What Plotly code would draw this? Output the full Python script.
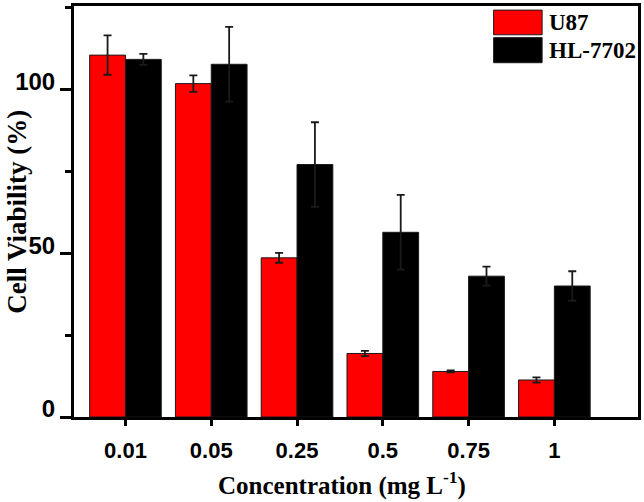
import plotly.graph_objects as go

categories = ["0.01", "0.05", "0.25", "0.5", "0.75", "1"]
u87 = [110.5, 101.8, 48.6, 19.4, 13.9, 11.3]
u87_err = [6.0, 2.5, 1.5, 0.8, 0.3, 0.8]
hl7702 = [109.2, 107.7, 77.1, 56.4, 43.0, 40.0]
hl7702_err = [1.7, 11.4, 12.9, 11.4, 2.9, 4.5]
series_names = ["U87", "HL-7702"]
series_colors = ["#ff0000", "#000000"]
y_ticks = [0, 50, 100]

fig = go.Figure()
for name, vals, errs, col in zip(series_names, [u87, hl7702], [u87_err, hl7702_err], series_colors):
    fig.add_trace(go.Bar(
        x=categories, y=vals, name=name,
        marker=dict(color=col, line=dict(color="#1a1a1a", width=1)),
        error_y=dict(type="data", array=errs, visible=True, color="#1a1a1a", thickness=1.8, width=4),
        showlegend=False,
    ))

fig.update_layout(
    width=644, height=502,
    margin=dict(l=74, r=4, t=3, b=85),
    paper_bgcolor="white", plot_bgcolor="white",
    barmode="group", bargap=0.165, bargroupgap=0,
    font=dict(family="Liberation Sans, Arial", color="black"),
)
fig.update_xaxes(
    type="category", range=[-0.6, 5.975],
    showline=True, linecolor="black", linewidth=3, mirror=True,
    ticks="outside", ticklen=6, tickwidth=3, tickcolor="black",
    ticklabelstandoff=6,
    tickfont=dict(family="Liberation Sans, Arial", size=22, color="black", weight="bold"),
    showgrid=False, zeroline=False,
)
fig.update_yaxes(
    range=[0, 125.5], tickvals=y_ticks,
    showline=True, linecolor="black", linewidth=3, mirror=True,
    ticks="outside", ticklen=11, tickwidth=3, tickcolor="black",
    ticklabelshift=-8, ticklabelstandoff=0,
    minor=dict(ticks="outside", ticklen=6, tickwidth=3, tickcolor="black", dtick=25, tick0=0),
    tickfont=dict(family="Liberation Sans, Arial", size=24, color="black", weight="bold"),
    showgrid=False, zeroline=False,
)

serif = dict(family="Liberation Serif, Times New Roman", color="black", weight="bold")
fig.add_annotation(text="Cell Viability (%)", xref="paper", yref="paper", x=-0.1025, y=0.5,
                   textangle=-90, showarrow=False, xanchor="center", yanchor="middle",
                   font=dict(size=27, **serif))
fig.add_annotation(text="Concentration (mg L<sup>-1</sup>)", xref="paper", yref="paper", x=0.475, y=-0.162,
                   showarrow=False, xanchor="center", yanchor="middle",
                   font=dict(size=25, **serif))

# legend drawn as boxes + labels
leg_y = [(0.990, 0.930), (0.923, 0.862)]
for (y1, y0), name, col in zip(leg_y, series_names, series_colors):
    fig.add_shape(type="rect", xref="paper", yref="paper", x0=0.744, x1=0.830, y0=y0, y1=y1,
                  fillcolor=col, line=dict(color="#1a1a1a", width=1))
    fig.add_annotation(text=name, xref="paper", yref="paper", x=0.838, y=(y0 + y1) / 2,
                       showarrow=False, xanchor="left", yanchor="middle",
                       font=dict(size=23, **serif))

fig.write_html("out.html", config={"displayModeBar": False},
               post_script="document.body.style.margin='0';")
